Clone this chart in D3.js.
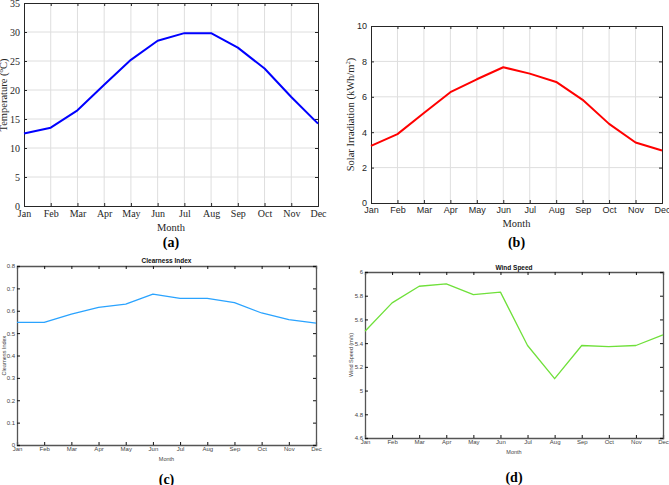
<!DOCTYPE html>
<html><head><meta charset="utf-8">
<script src="https://cdn.jsdelivr.net/npm/d3@7"></script>
<style>body{margin:0;background:#fff}svg{display:block}</style>
</head><body>
<svg id="c" width="669" height="485"></svg>
<script>
const months = ["Jan","Feb","Mar","Apr","May","Jun","Jul","Aug","Sep","Oct","Nov","Dec"];
const temperature = [12.5,13.5,16.5,20.9,25.2,28.5,29.8,29.8,27.3,23.7,18.8,14.2];
const solar = [3.23,3.89,5.08,6.26,6.99,7.67,7.31,6.84,5.83,4.47,3.42,2.97];
const clearness = [0.548,0.548,0.585,0.615,0.63,0.674,0.655,0.655,0.636,0.59,0.56,0.545];
const wind = [5.50,5.74,5.88,5.90,5.81,5.83,5.38,5.10,5.38,5.37,5.38,5.47];
const tempTicks = [0,5,10,15,20,25,30,35];
const solarTicks = [0,2,4,6,8,10];
const clearTicks = [0,0.1,0.2,0.3,0.4,0.5,0.6,0.7,0.8];
const windTicks = [4.6,4.8,5,5.2,5.4,5.6,5.8,6];
const panelLabels = ["(a)","(b)","(c)","(d)"];

const svg = d3.select("#c");
const serif = "'Liberation Serif','Times New Roman',serif";
const sans = "'Liberation Sans',Arial,sans-serif";

function panel(o){
  const g = svg.append("g");
  const x = d3.scalePoint().domain(months).range([o.x0,o.x1]);
  const y = d3.scaleLinear().domain(o.dom).range([o.y1,o.y0]);
  if(o.grid){
    g.append("g").selectAll("line").data(months.slice(1,-1)).join("line")
      .attr("x1",d=>x(d)).attr("x2",d=>x(d)).attr("y1",o.y0).attr("y2",o.y1)
      .attr("stroke","#dedede").attr("stroke-width",1);
    g.append("g").selectAll("line").data(o.ticks.slice(1,-1)).join("line")
      .attr("y1",d=>y(d)).attr("y2",d=>y(d)).attr("x1",o.x0).attr("x2",o.x1)
      .attr("stroke","#dedede").attr("stroke-width",1);
  }
  const tl = o.tick;
  const xb = g.append("g").attr("transform",`translate(0,${o.y1})`)
    .call(d3.axisBottom(x).tickSize(-tl).tickPadding(o.xpad));
  const xt = g.append("g").attr("transform",`translate(0,${o.y0})`)
    .call(d3.axisTop(x).tickSize(-tl).tickFormat(""));
  const yl = g.append("g").attr("transform",`translate(${o.x0},0)`)
    .call(d3.axisLeft(y).tickValues(o.ticks).tickSize(-tl).tickPadding(o.ypad).tickFormat(o.fmt||(d=>d)));
  const yr = g.append("g").attr("transform",`translate(${o.x1},0)`)
    .call(d3.axisRight(y).tickValues(o.ticks).tickSize(-tl).tickFormat(""));
  [xb,xt,yl,yr].forEach(a=>{
    a.select(".domain").attr("stroke",o.axisColor).attr("stroke-width",o.axisW);
    a.selectAll(".tick line").attr("stroke",o.tickColor).attr("stroke-width",1);
    a.selectAll("text").attr("fill",o.textColor).attr("font-family",o.tickFont).attr("font-size",o.tickSize);
  });
  g.append("path").datum(o.data)
    .attr("fill","none").attr("stroke",o.color).attr("stroke-width",o.lw)
    .attr("stroke-linejoin","round")
    .attr("d",d3.line().x((d,i)=>x(months[i])).y(d=>y(d)));
  g.append("text").attr("x",(o.x0+o.x1)/2).attr("y",o.monthY).attr("text-anchor","middle")
    .attr("font-family",o.labFont).attr("font-size",o.labSize).attr("fill",o.textColor).text("Month");
  const yt = g.append("text").attr("transform",`translate(${o.ylabX},${o.ylabY||(o.y0+o.y1)/2}) rotate(-90)`)
    .attr("text-anchor","middle").attr("dominant-baseline","middle")
    .attr("font-family",o.labFont).attr("font-size",o.labSize).attr("fill",o.textColor);
  if(o.ylab.sup){
    yt.append("tspan").text(o.ylab.pre);
    yt.append("tspan").attr("baseline-shift","super").attr("font-size",o.labSize*0.65).text(o.ylab.sup);
    yt.append("tspan").text(o.ylab.post);
  } else yt.text(o.ylab.pre);
  if(o.title){
    g.append("text").attr("x",(o.x0+o.x1)/2).attr("y",o.titleY).attr("text-anchor","middle")
      .attr("font-family",sans).attr("font-weight","bold").attr("font-size",6.5).attr("fill","#111").text(o.title);
  }
  g.append("text").attr("x",(o.x0+o.x1)/2).attr("y",o.pY).attr("text-anchor","middle")
    .attr("font-family",serif).attr("font-weight","bold").attr("font-size",14).attr("fill","#000").text(o.plabel);
}

panel({x0:24,x1:318,y0:3,y1:206,dom:[0,35],ticks:tempTicks,data:temperature,color:"#0000ff",lw:2,
  grid:true,tick:3,xpad:4,ypad:4,axisColor:"#262626",axisW:1,tickColor:"#262626",textColor:"#262626",
  tickFont:serif,tickSize:10,labFont:serif,labSize:10.5,monthY:231,ylabX:5,ylabY:95,
  ylab:{pre:"Temperature (",sup:"o",post:"C)"},pY:247,plabel:panelLabels[0]});

panel({x0:371,x1:662,y0:26,y1:203,dom:[0,10],ticks:solarTicks,data:solar,color:"#ff0000",lw:2,
  grid:true,tick:3,xpad:4,ypad:4,axisColor:"#262626",axisW:1,tickColor:"#262626",textColor:"#262626",
  tickFont:sans,tickSize:9,labFont:serif,labSize:10.5,monthY:227,ylabX:352,
  ylab:{pre:"Solar Irradiation (kWh/m",sup:"2",post:")"},pY:247,plabel:panelLabels[1]});

panel({x0:17,x1:316,y0:266,y1:445,dom:[0,0.8],ticks:clearTicks,data:clearness,color:"#2aa3ff",lw:1.3,
  grid:false,tick:3,xpad:2,ypad:2,axisColor:"#555",axisW:1.3,tickColor:"#111",textColor:"#444",
  tickFont:sans,tickSize:6,labFont:sans,labSize:5.5,monthY:461,ylabX:5,
  ylab:{pre:"Clearness Index"},title:"Clearness Index",titleY:263,pY:484,plabel:panelLabels[2]});

panel({x0:365,x1:663,y0:272,y1:438,dom:[4.6,6],ticks:windTicks,data:wind,color:"#6fe03a",lw:1.3,
  grid:false,tick:3,xpad:2,ypad:2,axisColor:"#555",axisW:1.3,tickColor:"#111",textColor:"#444",
  tickFont:sans,tickSize:6,labFont:sans,labSize:5.5,monthY:454,ylabX:352,fmt:d3.format("~g"),
  ylab:{pre:"Wind Speed (m/s)"},title:"Wind Speed",titleY:270,pY:482,plabel:panelLabels[3]});
</script>
</body></html>
